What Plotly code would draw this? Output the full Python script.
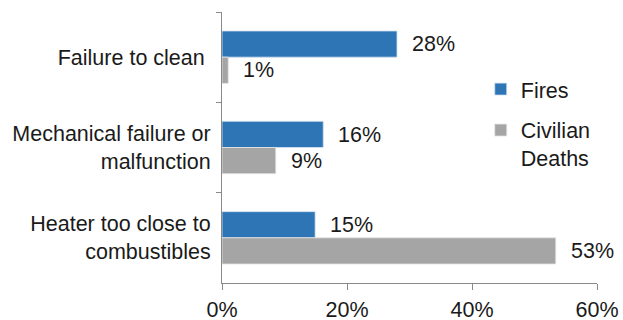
import plotly.graph_objects as go

categories = ["Failure to clean\u00a0", "Mechanical failure or<br>malfunction", "Heater too close to<br>combustibles"]
fires = [28.0, 16.2, 14.9]
deaths = [1.0, 8.6, 53.4]
fires_labels = ["28%", "16%", "15%"]
deaths_labels = ["1%", "9%", "53%"]
x_ticks = [0, 20, 40, 60]
x_tick_labels = ["0%", "20%", "40%", "60%"]

FONT = "Liberation Sans, Arial, sans-serif"
FS = 21.5
BLUE = "#2E75B6"
GRAY = "#A5A5A5"
AXIS = "#898989"
TXT = "#1a1a1a"

fig = go.Figure()
fig.add_trace(go.Bar(y=categories, x=fires, orientation="h", name="Fires",
                     marker=dict(color=BLUE, line=dict(color="#D6E3F0", width=0.8)),
                     legendgroup="a"))
fig.add_trace(go.Bar(y=categories, x=deaths, orientation="h", name="Civilian<br>Deaths",
                     marker=dict(color=GRAY, line=dict(color="#E4E4E4", width=0.8)),
                     legendgroup="b"))

for cat, v, t in zip(categories, fires, fires_labels):
    fig.add_annotation(x=v, y=cat, text=t, showarrow=False, xanchor="left",
                       xshift=13, yshift=13, font=dict(family=FONT, size=FS, color=TXT))
for cat, v, t in zip(categories, deaths, deaths_labels):
    fig.add_annotation(x=v, y=cat, text=t, showarrow=False, xanchor="left",
                       xshift=13, yshift=-13, font=dict(family=FONT, size=FS, color=TXT))

fig.update_layout(
    width=623, height=320,
    margin=dict(l=221.5, r=26, t=12, b=37, autoexpand=False),
    paper_bgcolor="white", plot_bgcolor="white",
    barmode="group", bargap=0.42, bargroupgap=0,
    font=dict(family=FONT, size=FS, color=TXT),
    showlegend=True,
    legend=dict(x=0.69, y=0.791, xanchor="left", yanchor="top",
                font=dict(family=FONT, size=FS, color=TXT),
                valign="top", tracegroupgap=10, bgcolor="rgba(0,0,0,0)"),
    xaxis=dict(range=[0, 60], tickvals=x_ticks, ticktext=x_tick_labels, automargin=False,
               showgrid=False, zeroline=False, showline=True, linecolor=AXIS, linewidth=1,
               ticks="outside", ticklen=6, tickcolor=AXIS, ticklabelstandoff=1,
               tickfont=dict(family=FONT, size=FS, color=TXT)),
    yaxis=dict(autorange="reversed", showgrid=False, zeroline=False, automargin=False,
               showline=True, linecolor=AXIS, linewidth=1,
               ticks="outside", ticklen=5, tickcolor=AXIS, tickson="boundaries",
               ticklabelstandoff=6,
               tickfont=dict(family=FONT, size=FS, color=TXT)),
)

fig.write_html("out.html")
